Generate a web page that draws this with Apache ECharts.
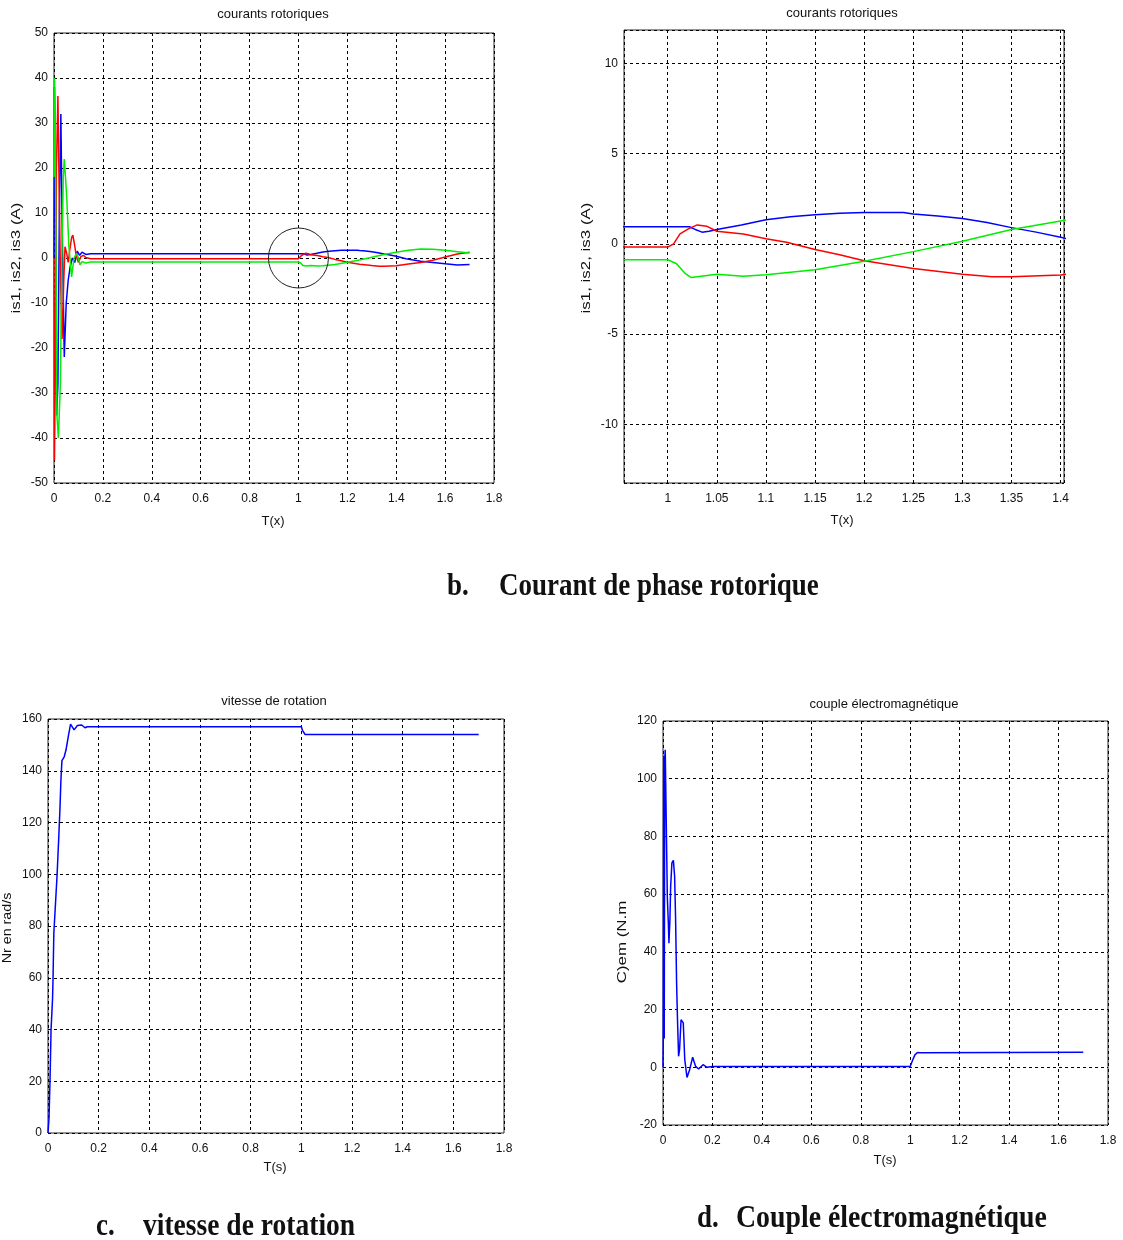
<!DOCTYPE html>
<html>
<head>
<meta charset="utf-8">
<script src="https://cdn.jsdelivr.net/npm/echarts@6/dist/echarts.min.js"></script>
<style>
  html, body { margin: 0; padding: 0; background: #fff; }
  #main { width: 1123px; height: 1240px; }
</style>
</head>
<body>
<div id="main"></div>
<script>
// Phase currents [t (s), i (A)] — start-up transient, steady state, load step at t = 1 s
const is1 = [
  [0, 0], [0.002, 38], [0.006, 20], [0.011, -35], [0.016, -28], [0.022, 10], [0.028, 32],
  [0.034, 5], [0.042, -22], [0.05, -10], [0.058, -5], [0.066, -2], [0.075, 0], [0.085, -1],
  [0.095, 1.5], [0.105, 0.6], [0.115, 1.3], [0.13, 0.8], [0.15, 0.95],
  [1.0, 0.95], [1.022, 0.95], [1.028, 0.8], [1.035, 0.65], [1.042, 0.7], [1.05, 0.8],
  [1.075, 1.05], [1.1, 1.34], [1.125, 1.5], [1.15, 1.62], [1.175, 1.7], [1.2, 1.74],
  [1.24, 1.74], [1.25, 1.65], [1.275, 1.55], [1.3, 1.4], [1.325, 1.18], [1.35, 0.9],
  [1.375, 0.65], [1.4, 0.37], [1.44, -0.15], [1.5, -0.74], [1.55, -1.0], [1.6, -1.3],
  [1.65, -1.55], [1.7, -1.45]
];
const is2 = [
  [0, 0], [0.002, -45], [0.006, -20], [0.01, 20], [0.016, 36], [0.021, 15], [0.027, -5],
  [0.033, -18], [0.04, -5], [0.045, 2.5], [0.052, 1], [0.058, -1], [0.065, 2], [0.072, 4.5],
  [0.077, 5.1], [0.084, 3], [0.091, 0.5], [0.1, -1], [0.11, 0.3], [0.12, 0.6], [0.13, 0.1],
  [0.15, -0.18],
  [1.0, -0.18], [1.006, 0], [1.0125, 0.55], [1.021, 0.83], [1.03, 1.05], [1.04, 0.97],
  [1.05, 0.7], [1.077, 0.55], [1.1, 0.28], [1.121, 0.09], [1.15, -0.31], [1.175, -0.6],
  [1.2, -0.94], [1.25, -1.37], [1.3, -1.69], [1.33, -1.82], [1.35, -1.82], [1.4, -1.72],
  [1.45, -1.35], [1.5, -1.0], [1.55, -0.5], [1.6, 0.2], [1.65, 0.9], [1.7, 1.3]
];
const is3 = [
  [0, 18], [0.002, 40], [0.005, 30], [0.012, -35], [0.018, -40], [0.022, -40], [0.026, -28],
  [0.032, 0], [0.038, 18], [0.042, 22], [0.047, 18], [0.052, 13.6], [0.061, 2.5],
  [0.072, -4.2], [0.082, 0], [0.093, 1], [0.1, 0], [0.106, -1.5], [0.115, -0.8],
  [0.13, -1.1], [0.15, -0.88],
  [1.0, -0.88], [1.009, -1.1], [1.018, -1.65], [1.024, -1.87], [1.036, -1.78], [1.05, -1.69],
  [1.077, -1.8], [1.1, -1.71], [1.15, -1.43], [1.2, -0.96], [1.25, -0.43], [1.3, 0.15],
  [1.35, 0.8], [1.4, 1.27], [1.45, 1.7], [1.5, 2.0], [1.55, 1.95], [1.6, 1.7], [1.65, 1.4],
  [1.7, 1.1]
];

// Rotor speed [t (s), Nr (rad/s)]
const speed = [
  [0, 0], [0.004, 5.7], [0.008, 20.5], [0.012, 39.8], [0.018, 52], [0.02, 60.4],
  [0.023, 77.2], [0.03, 89.4], [0.036, 100], [0.042, 113.2], [0.047, 124.8], [0.051, 136.4],
  [0.055, 143.9], [0.064, 145.4], [0.071, 148], [0.08, 153.2], [0.089, 158], [0.103, 155.8],
  [0.116, 157.5], [0.133, 157.7], [0.146, 156.6], [0.155, 157],
  [1.0, 157], [1.005, 155.5], [1.015, 154], [1.7, 154]
];

// Electromagnetic torque [t (s), Cem (N.m)]
const torque = [
  [0, 0], [0.001, 8], [0.003, 108], [0.005, 10], [0.007, 106], [0.009, 110], [0.012, 92],
  [0.0175, 59], [0.0216, 50], [0.024, 43], [0.028, 51], [0.031, 62.7], [0.036, 70.8],
  [0.042, 71.7], [0.047, 66.2], [0.051, 51.2], [0.055, 29.2], [0.059, 15.4], [0.063, 3.8],
  [0.067, 6.1], [0.073, 16.5], [0.077, 17.1], [0.082, 15.4], [0.088, 2.7], [0.097, -3.5],
  [0.108, -0.8], [0.12, 3.5], [0.132, 0.3], [0.144, -0.6], [0.162, 0.9], [0.178, 0],
  [0.2, 0.3],
  [1.0, 0.3], [1.01, 2.5], [1.019, 4.3], [1.029, 5.1], [1.04, 5.0], [1.048, 5.3], [1.7, 5.2]
];

// Axis ranges
const tRange = [0, 1.8];
const currentRange = [-50, 50];
const zoomT = [0.9555, 1.4034];
const zoomI = [-13.25, 11.85];
const speedRange = [0, 160];
const torqueRange = [-20, 120];

const SANS = "'Liberation Sans', Arial, sans-serif";
const SERIF = "'Liberation Serif', 'Times New Roman', serif";

function fmt(v) { return String(Math.round(v * 1000) / 1000); }
function onStep(step) {
  return function (v) {
    const k = Math.round(v / step);
    return Math.abs(v - k * step) < 1e-6 ? fmt(k * step) : '';
  };
}

const gridLine = { show: true, lineStyle: { color: '#000', type: [3, 3], width: 1 } };
const label = { fontSize: 12, fontFamily: SANS, color: '#111', margin: 10 };
const yLabel = { fontSize: 12, fontFamily: SANS, color: '#111', margin: 6 };

function axis(gridIndex, range, opts) {
  return Object.assign({
    gridIndex, type: 'value', min: range[0], max: range[1],
    axisLine: { show: false }, axisTick: { show: false },
    splitLine: gridLine,
    axisLabel: Object.assign({}, label, { formatter: fmt })
  }, opts || {});
}

const gridBox = { show: true, borderColor: '#262626', borderWidth: 1, backgroundColor: '#fff', containLabel: false };

const option = {
  animation: false,
  backgroundColor: '#fff',
  grid: [
    Object.assign({ left: 54, top: 33, width: 440, height: 450 }, gridBox),
    Object.assign({ left: 624, top: 30, width: 440, height: 453 }, gridBox),
    Object.assign({ left: 48, top: 719, width: 456, height: 414 }, gridBox),
    Object.assign({ left: 663, top: 721, width: 445, height: 404 }, gridBox)
  ],
  xAxis: [
    axis(0, tRange, { interval: 0.2 }),
    axis(1, zoomT, { splitNumber: 9, axisLabel: Object.assign({}, label, { formatter: onStep(0.05) }) }),
    axis(2, tRange, { interval: 0.2 }),
    axis(3, tRange, { interval: 0.2 })
  ],
  yAxis: [
    axis(0, currentRange, { interval: 10, axisLabel: Object.assign({}, yLabel, { formatter: fmt }) }),
    axis(1, zoomI, { splitNumber: 5, axisLabel: Object.assign({}, yLabel, { formatter: onStep(5) }) }),
    axis(2, speedRange, { interval: 20, axisLabel: Object.assign({}, yLabel, { formatter: fmt }) }),
    axis(3, torqueRange, { interval: 20, axisLabel: Object.assign({}, yLabel, { formatter: fmt }) })
  ],
  series: []
};

function line(name, data, idx, color) {
  return { name, type: 'line', data, xAxisIndex: idx, yAxisIndex: idx, showSymbol: false,
           symbol: 'none', lineStyle: { color, width: 1.5 }, itemStyle: { color }, clip: true, z: 3 };
}
[0, 1].forEach(function (g) {
  option.series.push(line('is1', is1, g, '#0000ff'));
  option.series.push(line('is2', is2, g, '#ff0000'));
  option.series.push(line('is3', is3, g, '#00ee00'));
});
option.series.push(line('Nr', speed, 2, '#0000ff'));
option.series.push(line('Cem', torque, 3, '#0000ff'));

const chart = echarts.init(document.getElementById('main'), null, { renderer: 'canvas' });
chart.setOption(option);

function txt(text, x, y, size, o) {
  o = o || {};
  return {
    type: 'text', x, y, rotation: o.rot || 0, scaleX: o.sx || 1, scaleY: o.sy || 1, z: 10,
    style: {
      text, fill: '#111',
      font: (o.weight || 'normal') + ' ' + size + 'px ' + (o.family || SANS),
      textAlign: o.align || 'center', textVerticalAlign: 'middle',
      align: o.align || 'center', verticalAlign: 'middle'
    }
  };
}
const R = Math.PI / 2;
const cap = (sx) => ({ align: 'left', family: SERIF, weight: 'bold', sx, sy: 1.15 });

// Marker circle around the load step in the full-range current plot
const c0 = chart.convertToPixel({ gridIndex: 0 }, [1.0, 0]);

chart.setOption({
  graphic: [
    txt('courants rotoriques', 273, 14, 13),
    txt('T(x)', 273, 521, 13),
    txt('is1, is2, is3 (A)', 16, 258, 13, { rot: R, sx: 1.3 }),
    txt('courants rotoriques', 842, 13, 13),
    txt('T(x)', 842, 520, 13),
    txt('is1, is2, is3 (A)', 586, 258, 13, { rot: R, sx: 1.3 }),
    txt('vitesse de rotation', 274, 701, 13),
    txt('T(s)', 275, 1167, 13),
    txt('Nr en rad/s', 7, 928, 13, { rot: R, sx: 1.1 }),
    txt('couple électromagnétique', 884, 704, 13),
    txt('T(s)', 885, 1160, 13),
    txt('C)em (N.m', 622, 942, 13, { rot: R, sx: 1.3 }),
    txt('b.', 447, 587, 27, cap(1)),
    txt('Courant de phase rotorique', 499, 587, 27, cap(1)),
    txt('c.', 96, 1227, 27, cap(1)),
    txt('vitesse de rotation', 143, 1227, 27, cap(1.02)),
    txt('d.', 697, 1219, 27, cap(1)),
    txt('Couple électromagnétique', 736, 1219, 27, cap(1.03)),
    {
      type: 'circle', z: 5, shape: { cx: c0[0], cy: c0[1], r: 30 },
      style: { fill: 'none', stroke: '#222', lineWidth: 1 }
    }
  ]
});
</script>
</body>
</html>
